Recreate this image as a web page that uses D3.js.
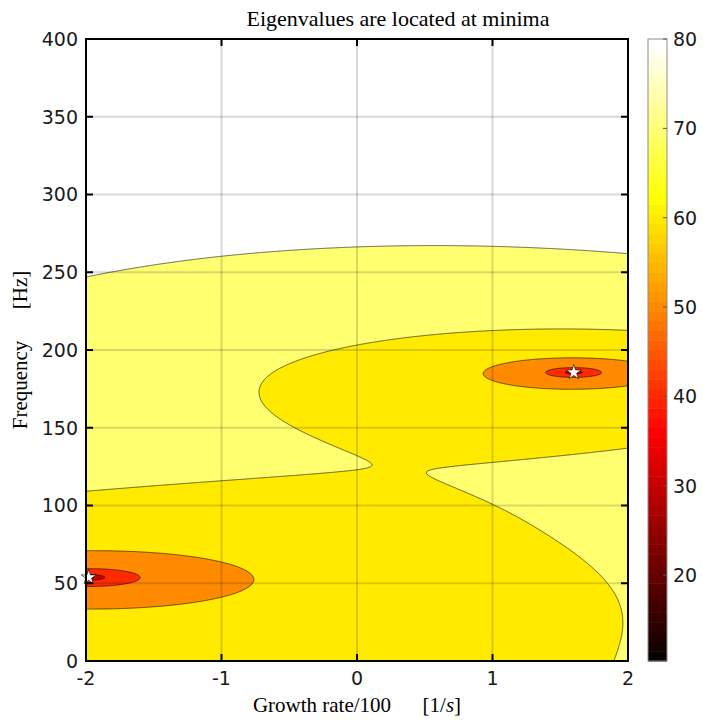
<!DOCTYPE html>
<html><head><meta charset="utf-8">
<script src="https://cdn.jsdelivr.net/npm/d3@7"></script>
<style>body{margin:0;background:#fff} svg{display:block}</style>
</head><body>
<svg id="chart" width="703" height="720"></svg>
<script>
// ---------------- data ----------------
const xTicks = [-2, -1, 0, 1, 2];
const yTicks = [0, 50, 100, 150, 200, 250, 300, 350, 400];
const colorbarTicks = [20, 30, 40, 50, 60, 70, 80];
const contourLevels = [10, 20, 30, 40, 50, 60, 70, 80];
const colorLimits = [10.4, 80];
const eigenGrowth = [1.60, -1.98];     // growth rate/100 of the minima (eigenvalues)
const eigenFreq = [185.6, 53.8];       // frequency [Hz] of the minima
const eigenOffset = [0.4, 0.05];
const eigenReach = [1.0, 1.6];
// parameters of the plotted log-magnitude surface
const freqPerUnit = 15.2;
const plateau = 44.26;
const riseSteep = [1.2, 4.6, 1.0];
const riseGentle = [0.55, 9.5, 1.5];
const tilt = [-0.16, 0.19, 6.0, 0.7];
const topBend = [14, 0.1, 3.2];
const topShape = [-1.45, 0.16, 0.176];
const topSwitch = [15, 0.7];

// ---------------- layout ----------------
const svg = d3.select("#chart");
const P = {left: 86, right: 628, top: 39, bottom: 661};
const x = d3.scaleLinear().domain([-2, 2]).range([P.left, P.right]);
const y = d3.scaleLinear().domain([0, 400]).range([P.bottom, P.top]);
const CB = {left: 648, right: 667};
const cy = d3.scaleLinear().domain(colorLimits).range([P.bottom, P.top]);

// MATLAB hot(64)
const M = 64;
function hotIndex(i) {
  const n = 24;
  const r = i <= n ? i / n : 1;
  const g = i <= n ? 0 : (i <= 2 * n ? (i - n) / n : 1);
  const b = i <= 2 * n ? 0 : (i - 2 * n) / (M - 2 * n);
  return d3.rgb(r * 255, g * 255, b * 255).toString();
}
function hotValue(v) {
  let i = Math.floor((v - colorLimits[0]) / (colorLimits[1] - colorLimits[0]) * M) + 1;
  i = Math.max(1, Math.min(M, i));
  return hotIndex(i);
}

const sp = t => t > 30 ? t : Math.log1p(Math.exp(t));
const sig = t => 1 / (1 + Math.exp(-t));
function field(gx, fz) {
  const v = fz / freqPerUnit;
  let s = 0;
  for (let k = 0; k < eigenGrowth.length; k++) {
    const du = gx - eigenGrowth[k], dv = v - eigenFreq[k] / freqPerUnit;
    const r2 = du * du + dv * dv;
    const q = r2 / (eigenReach[k] * eigenReach[k]);
    s += 10 * Math.log10(r2 + 1e-12) + eigenOffset[k] * Math.exp(-q * q);
  }
  let p = plateau
    - riseSteep[0] * riseSteep[2] * sp((riseSteep[1] - v) / riseSteep[2])
    - riseGentle[0] * riseGentle[2] * sp((riseGentle[1] - v) / riseGentle[2]);
  const a = tilt[0] + (tilt[1] - tilt[0]) * sig((tilt[2] - v) / tilt[3]);
  p += a * gx;
  if (v > topBend[0]) {
    const d = v - topBend[0], c2 = topBend[2] * topBend[2];
    p -= topBend[1] * c2 * (1 - Math.exp(-d * d / c2));
  }
  p += sig((v - topSwitch[0]) / topSwitch[1]) * (topShape[0] + topShape[1] * gx + topShape[2] * gx * gx);
  return Math.max(0, s + p);
}

// grid
const nx = 542, ny = 622;
const xd = x.domain(), yd = y.domain();
const values = new Float64Array(nx * ny);
for (let j = 0; j < ny; j++) {
  const fz = yd[0] + (j + 0.5) / ny * (yd[1] - yd[0]);
  for (let i = 0; i < nx; i++) {
    const gx = xd[0] + (i + 0.5) / nx * (xd[1] - xd[0]);
    values[i + j * nx] = field(gx, fz);
  }
}
const contours = d3.contours().size([nx, ny]).thresholds(contourLevels)(values);
const proj = d3.geoTransform({
  point: function (px, py) {
    this.stream.point(x(xd[0] + px / nx * (xd[1] - xd[0])), y(yd[0] + py / ny * (yd[1] - yd[0])));
  }
});
const path = d3.geoPath(proj);

svg.append("clipPath").attr("id", "clip").append("rect")
  .attr("x", P.left).attr("y", P.top).attr("width", P.right - P.left).attr("height", P.bottom - P.top);

const plot = svg.append("g").attr("clip-path", "url(#clip)");
plot.append("rect").attr("x", P.left).attr("y", P.top).attr("width", P.right - P.left)
  .attr("height", P.bottom - P.top).attr("fill", hotIndex(1));
plot.selectAll("path.fill").data(contours).join("path").attr("class", "fill")
  .attr("d", path).attr("fill", d => hotValue(d.value)).attr("stroke", "none");
plot.selectAll("path.line").data(contours.filter(d => d.value > contourLevels[0])).join("path").attr("class", "line")
  .attr("d", path).attr("fill", "none").attr("stroke", "#000").attr("stroke-width", 0.7).attr("stroke-opacity", 0.85);

// grid lines
const grid = svg.append("g").attr("stroke", "#000").attr("stroke-opacity", 0.15).attr("stroke-width", 2);
xTicks.slice(1, -1).forEach(t => grid.append("line").attr("x1", x(t)).attr("x2", x(t)).attr("y1", P.top).attr("y2", P.bottom));
yTicks.slice(1, -1).forEach(t => grid.append("line").attr("y1", y(t)).attr("y2", y(t)).attr("x1", P.left).attr("x2", P.right));

// minima markers
const star = d3.symbol().type(d3.symbolStar).size(70);
svg.append("g").selectAll("path").data(eigenGrowth).join("path")
  .attr("transform", (d, i) => `translate(${x(d)},${y(eigenFreq[i])})`)
  .attr("d", star).attr("fill", "#fff").attr("stroke", "#000").attr("stroke-width", 0.6);

// axes (box with inward ticks)
const tl = 7;
const ax = svg.append("g").attr("stroke", "#000").attr("stroke-width", 2);
xTicks.forEach(t => {
  ax.append("line").attr("x1", x(t)).attr("x2", x(t)).attr("y1", P.bottom).attr("y2", P.bottom - tl);
  ax.append("line").attr("x1", x(t)).attr("x2", x(t)).attr("y1", P.top).attr("y2", P.top + tl);
});
yTicks.forEach(t => {
  ax.append("line").attr("y1", y(t)).attr("y2", y(t)).attr("x1", P.left).attr("x2", P.left + tl);
  ax.append("line").attr("y1", y(t)).attr("y2", y(t)).attr("x1", P.right).attr("x2", P.right - tl);
});
ax.append("rect").attr("x", P.left).attr("y", P.top).attr("width", P.right - P.left)
  .attr("height", P.bottom - P.top).attr("fill", "none");

const tickFont = "DejaVu Sans, sans-serif";
svg.append("g").selectAll("text").data(xTicks).join("text")
  .attr("x", d => x(d)).attr("y", 685).attr("text-anchor", "middle")
  .attr("font-family", tickFont).attr("font-size", 19).attr("fill", "#1a1a1a").text(d => d);
svg.append("g").selectAll("text").data(yTicks).join("text")
  .attr("x", P.left - 8).attr("y", d => y(d)).attr("dy", "0.36em").attr("text-anchor", "end")
  .attr("font-family", tickFont).attr("font-size", 19).attr("fill", "#1a1a1a").text(d => d);

// colorbar
const cbg = svg.append("g");
const bandH = (P.bottom - P.top) / M;
cbg.selectAll("rect").data(d3.range(1, M + 1)).join("rect")
  .attr("x", CB.left).attr("width", CB.right - CB.left)
  .attr("y", i => P.bottom - i * bandH).attr("height", bandH + 0.5)
  .attr("fill", i => hotIndex(i));
cbg.append("rect").attr("x", CB.left).attr("y", P.top).attr("width", CB.right - CB.left)
  .attr("height", P.bottom - P.top).attr("fill", "none").attr("stroke", "#8c8c8c").attr("stroke-width", 1);
cbg.selectAll("line").data(colorbarTicks).join("line")
  .attr("x1", CB.right - 4).attr("x2", CB.right).attr("y1", d => cy(d)).attr("y2", d => cy(d))
  .attr("stroke", "#555").attr("stroke-width", 1);
cbg.selectAll("text").data(colorbarTicks).join("text")
  .attr("x", CB.right + 6).attr("y", d => cy(d)).attr("dy", "0.36em")
  .attr("font-family", tickFont).attr("font-size", 19).attr("fill", "#1a1a1a").text(d => d);

// titles
const serif = "Liberation Serif, Times New Roman, serif";
svg.append("text").attr("x", 398).attr("y", 26).attr("text-anchor", "middle")
  .attr("font-family", serif).attr("font-size", 22).attr("fill", "#000").text("Eigenvalues are located at minima");
const xl = svg.append("text").attr("x", (P.left + P.right) / 2).attr("y", 712).attr("text-anchor", "middle")
  .attr("font-family", serif).attr("font-size", 21).attr("fill", "#000");
xl.append("tspan").text("Growth rate/100\u2003\u2002[1/");
xl.append("tspan").attr("font-style", "italic").text("s");
xl.append("tspan").text("]");
svg.append("text").attr("transform", `translate(27,${(P.top + P.bottom) / 2}) rotate(-90)`)
  .attr("text-anchor", "middle").attr("font-family", serif).attr("font-size", 21).attr("fill", "#000")
  .text("Frequency\u2003\u2002[Hz]");
</script>
</body></html>
